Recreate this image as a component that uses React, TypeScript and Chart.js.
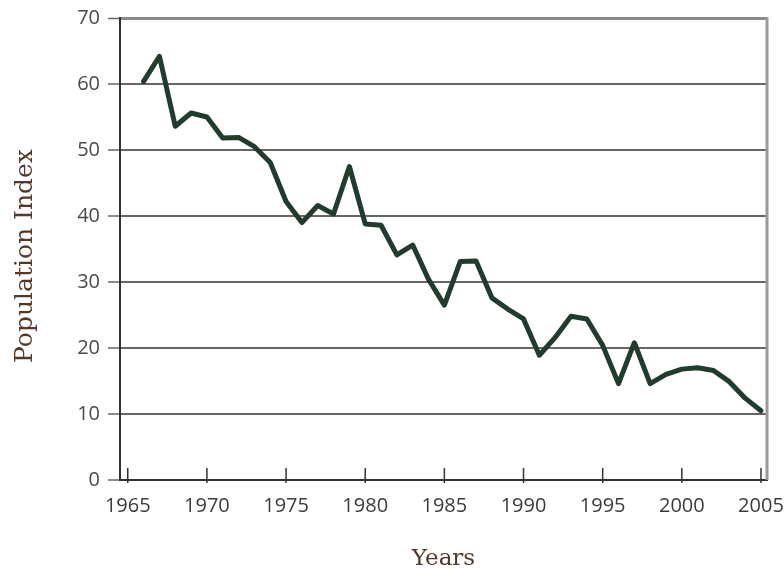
import React, { useEffect, useRef } from "react";
import { Chart, registerables } from "chart.js";

Chart.register(...registerables);

const years = [
  1966, 1967, 1968, 1969, 1970, 1971, 1972, 1973, 1974, 1975,
  1976, 1977, 1978, 1979, 1980, 1981, 1982, 1983, 1984, 1985,
  1986, 1987, 1988, 1989, 1990, 1991, 1992, 1993, 1994, 1995,
  1996, 1997, 1998, 1999, 2000, 2001, 2002, 2003, 2004, 2005,
];

const populationIndex = [
  60.4, 64.2, 53.6, 55.6, 55.0, 51.8, 51.9, 50.5, 48.1, 42.2,
  39.0, 41.6, 40.3, 47.5, 38.8, 38.6, 34.1, 35.6, 30.4, 26.5,
  33.1, 33.2, 27.6, 25.9, 24.4, 18.9, 21.6, 24.8, 24.4, 20.4,
  14.6, 20.8, 14.6, 16.0, 16.8, 17.0, 16.6, 14.9, 12.4, 10.5,
];

const xTickValues = [1965, 1970, 1975, 1980, 1985, 1990, 1995, 2000, 2005];
const yTickValues = [0, 10, 20, 30, 40, 50, 60, 70];

const xTitle = "Years";
const yTitle = "Population Index";

const decorPlugin = {
  id: "decor",
  afterDraw(chart: any) {
    const { ctx, chartArea, scales } = chart;
    const x = scales.x;
    ctx.save();
    // x tick marks crossing the axis
    ctx.strokeStyle = "#333333";
    ctx.lineWidth = 1.5;
    xTickValues.forEach((v) => {
      const px = x.getPixelForValue(v);
      ctx.beginPath();
      ctx.moveTo(px, chartArea.bottom - 12);
      ctx.lineTo(px, chartArea.bottom + 3);
      ctx.stroke();
    });
    // right border
    ctx.strokeStyle = "#9a9a9a";
    ctx.lineWidth = 3;
    ctx.beginPath();
    ctx.moveTo(chartArea.right, chartArea.top - 1);
    ctx.lineTo(chartArea.right, chartArea.bottom);
    ctx.stroke();
    // titles
    ctx.fillStyle = "#573828";
    ctx.textAlign = "center";
    ctx.textBaseline = "alphabetic";
    ctx.font = "23px 'DejaVu Serif'";
    ctx.fillText(xTitle, (chartArea.left + chartArea.right) / 2, 565);
    ctx.translate(32, 256);
    ctx.rotate(-Math.PI / 2);
    ctx.font = "25px 'DejaVu Serif'";
    ctx.fillText(yTitle, 0, 0);
    ctx.restore();
  },
};

export default function App() {
  const canvasRef = useRef<HTMLCanvasElement | null>(null);

  useEffect(() => {
    if (!canvasRef.current) return;
    const points = years.map((yr, i) => ({ x: yr, y: populationIndex[i] }));
    const chart = new Chart(canvasRef.current, {
      type: "line",
      data: {
        datasets: [
          {
            data: points,
            borderColor: "#213b2d",
            borderWidth: 5,
            pointRadius: 0,
            tension: 0,
            borderJoinStyle: "round",
            borderCapStyle: "round",
            fill: false,
          },
        ],
      },
      options: {
        animation: false,
        responsive: true,
        maintainAspectRatio: false,
        layout: { padding: { top: 18, right: 17, left: 0, bottom: 0 } },
        plugins: {
          legend: { display: false },
          tooltip: { enabled: false },
          title: { display: false },
        },
        scales: {
          x: {
            type: "linear",
            min: 1964.51,
            max: 2005.38,
            afterBuildTicks: (scale: any) => {
              scale.ticks = xTickValues.map((value) => ({ value }));
            },
            afterFit: (scale: any) => {
              scale.height = 90;
              scale.paddingLeft = 0;
              scale.paddingRight = 0;
            },
            grid: { display: false, drawTicks: false },
            border: { display: true, color: "#333333", width: 2 },
            ticks: {
              padding: 14,
              color: "#3c3c3c",
              font: { family: "'Open Sans'", size: 20 },
              callback: (v: any) => String(v),
              maxRotation: 0,
              autoSkip: false,
            },
          },
          y: {
            type: "linear",
            min: 0,
            max: 70,
            afterBuildTicks: (scale: any) => {
              scale.ticks = yTickValues.map((value) => ({ value }));
            },
            afterFit: (scale: any) => {
              scale.width = 120;
              scale.paddingTop = 0;
              scale.paddingBottom = 0;
            },
            grid: {
              color: (c: any) => (c.tick && c.tick.value === 70 ? "#8a8a8a" : "#666666"),
              lineWidth: (c: any) => (c.tick && c.tick.value === 70 ? 3 : 2),
              tickLength: 12,
              tickColor: "#666666",
              tickWidth: 1.5,
            },
            border: { display: true, color: "#333333", width: 2 },
            ticks: {
              padding: 8,
              color: "#4a4a4a",
              font: { family: "'Open Sans'", size: 20 },
              callback: (v: any) => String(v),
            },
          },
        },
      },
      plugins: [decorPlugin],
    });
    return () => chart.destroy();
  }, []);

  return (
    <div style={{ position: "absolute", left: 0, top: 0, width: 784, height: 570, background: "#ffffff" }}>
      <canvas ref={canvasRef} />
    </div>
  );
}
